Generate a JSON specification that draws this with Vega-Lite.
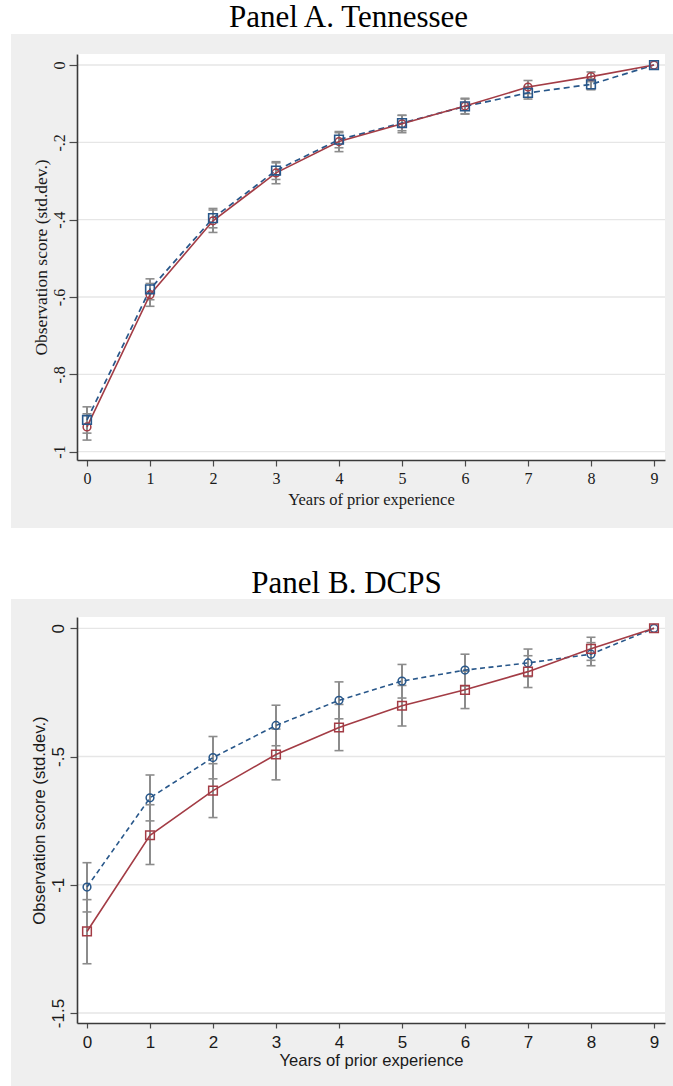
{
  "$schema": "https://vega.github.io/schema/vega-lite/v6.json",
  "background": "white",
  "padding": 0,
  "spacing": 0,
  "config": {"view": {"stroke": null}},
  "datasets": {
    "tn": [
      {"x": 0, "series": "S1", "y": -0.918, "lo": -0.952, "hi": -0.884},
      {"x": 0, "series": "S2", "y": -0.936, "lo": -0.970, "hi": -0.902},
      {"x": 1, "series": "S1", "y": -0.580, "lo": -0.607, "hi": -0.553},
      {"x": 1, "series": "S2", "y": -0.594, "lo": -0.624, "hi": -0.565},
      {"x": 2, "series": "S1", "y": -0.396, "lo": -0.421, "hi": -0.371},
      {"x": 2, "series": "S2", "y": -0.403, "lo": -0.433, "hi": -0.375},
      {"x": 3, "series": "S1", "y": -0.273, "lo": -0.296, "hi": -0.250},
      {"x": 3, "series": "S2", "y": -0.279, "lo": -0.307, "hi": -0.253},
      {"x": 4, "series": "S1", "y": -0.193, "lo": -0.214, "hi": -0.172},
      {"x": 4, "series": "S2", "y": -0.198, "lo": -0.224, "hi": -0.175},
      {"x": 5, "series": "S1", "y": -0.150, "lo": -0.170, "hi": -0.130},
      {"x": 5, "series": "S2", "y": -0.152, "lo": -0.175, "hi": -0.130},
      {"x": 6, "series": "S1", "y": -0.107, "lo": -0.126, "hi": -0.088},
      {"x": 6, "series": "S2", "y": -0.106, "lo": -0.127, "hi": -0.086},
      {"x": 7, "series": "S1", "y": -0.072, "lo": -0.088, "hi": -0.056},
      {"x": 7, "series": "S2", "y": -0.057, "lo": -0.074, "hi": -0.040},
      {"x": 8, "series": "S1", "y": -0.050, "lo": -0.064, "hi": -0.036},
      {"x": 8, "series": "S2", "y": -0.030, "lo": -0.043, "hi": -0.018},
      {"x": 9, "series": "S1", "y": 0},
      {"x": 9, "series": "S2", "y": 0}
    ],
    "dc": [
      {"x": 0, "series": "S1", "y": -1.009, "lo": -1.106, "hi": -0.914},
      {"x": 0, "series": "S2", "y": -1.182, "lo": -1.308, "hi": -1.058},
      {"x": 1, "series": "S1", "y": -0.661, "lo": -0.751, "hi": -0.572},
      {"x": 1, "series": "S2", "y": -0.807, "lo": -0.921, "hi": -0.688},
      {"x": 2, "series": "S1", "y": -0.504, "lo": -0.587, "hi": -0.422},
      {"x": 2, "series": "S2", "y": -0.633, "lo": -0.738, "hi": -0.528},
      {"x": 3, "series": "S1", "y": -0.379, "lo": -0.458, "hi": -0.300},
      {"x": 3, "series": "S2", "y": -0.492, "lo": -0.591, "hi": -0.393},
      {"x": 4, "series": "S1", "y": -0.281, "lo": -0.353, "hi": -0.209},
      {"x": 4, "series": "S2", "y": -0.387, "lo": -0.477, "hi": -0.297},
      {"x": 5, "series": "S1", "y": -0.206, "lo": -0.272, "hi": -0.141},
      {"x": 5, "series": "S2", "y": -0.302, "lo": -0.381, "hi": -0.223},
      {"x": 6, "series": "S1", "y": -0.163, "lo": -0.225, "hi": -0.101},
      {"x": 6, "series": "S2", "y": -0.240, "lo": -0.313, "hi": -0.167},
      {"x": 7, "series": "S1", "y": -0.135, "lo": -0.189, "hi": -0.081},
      {"x": 7, "series": "S2", "y": -0.169, "lo": -0.231, "hi": -0.107},
      {"x": 8, "series": "S1", "y": -0.101, "lo": -0.146, "hi": -0.056},
      {"x": 8, "series": "S2", "y": -0.080, "lo": -0.125, "hi": -0.035},
      {"x": 9, "series": "S1", "y": 0},
      {"x": 9, "series": "S2", "y": 0}
    ]
  },
  "vconcat": [
    {
      "width": 588,
      "height": 406,
      "title": {"text": "Panel A. Tennessee", "font": "Liberation Serif", "fontSize": 31, "fontWeight": "normal", "color": "#000000", "anchor": "middle", "frame": "group", "baseline": "alphabetic", "offset": -27, "dx": -22.5, "dy": 31},
      "data": {"name": "tn"},
      "encoding": {
        "x": {"field": "x", "type": "quantitative", "title": "Years of prior experience",
          "scale": {"domain": [-0.1587, 9.1746], "nice": false, "zero": false},
          "axis": {"values": [0, 1, 2, 3, 4, 5, 6, 7, 8, 9], "grid": false, "labelFont": "Liberation Serif", "labelFontSize": 16, "labelColor": "#1a1a1a", "labelPadding": 4.5, "labelAngle": 0, "labelFlush": false, "labelOverlap": false, "tickSize": 6, "tickColor": "#4a4a4a", "tickWidth": 1.2, "domainColor": "#3a3a3a", "domainWidth": 1.6, "titleFont": "Liberation Serif", "titleFontSize": 16.5, "titleFontWeight": "normal", "titleColor": "#1a1a1a", "titlePadding": 5, "zindex": 1}},
        "y": {"field": "y", "type": "quantitative", "title": "Observation score (std.dev.)",
          "scale": {"domain": [-1.0215, 0.0285], "nice": false, "zero": false},
          "axis": {"values": [0, -0.2, -0.4, -0.6, -0.8, -1], "grid": false, "labelFont": "Liberation Serif", "labelFontSize": 16, "labelColor": "#1a1a1a", "labelAngle": 270, "labelAlign": "center", "labelBaseline": "bottom", "labelPadding": 2, "labelFlush": false, "labelOverlap": false, "labelExpr": "datum.value == 0 ? '0' : (abs(datum.value) < 1 ? '-' + substring(format(abs(datum.value), '.1f'), 1) : '-' + format(abs(datum.value), '.1~f'))", "tickSize": 8, "tickColor": "#4a4a4a", "tickWidth": 1.2, "domainColor": "#3a3a3a", "domainWidth": 1.6, "titleFont": "Liberation Serif", "titleFontSize": 17.5, "titleFontWeight": "normal", "titleColor": "#1a1a1a", "titlePadding": 1, "zindex": 1}}
      },
      "layer": [
        {"transform": [{"filter": "datum.x == 9 && datum.series == 'S1'"}], "mark": {"type": "rect", "fill": "#ffffff", "fillOpacity": 0, "clip": false},
          "encoding": {"x": {"datum": -1.3809, "type": "quantitative"}, "x2": {"datum": 9.3016},
            "y": {"datum": 0.1681, "type": "quantitative"}, "y2": {"datum": -1.2801}}},
        {"transform": [{"filter": "datum.x == 9 && datum.series == 'S1'"}], "mark": {"type": "rect", "fill": "#efefef", "clip": false},
          "encoding": {"x": {"datum": -1.2063, "type": "quantitative"}, "x2": {"datum": 9.3016},
            "y": {"datum": 0.0802, "type": "quantitative"}, "y2": {"datum": -1.1973}}},
        {"transform": [{"filter": "datum.x == 9 && datum.series == 'S1'"}], "mark": {"type": "rect", "fill": "#ffffff", "clip": false},
          "encoding": {"x": {"datum": -0.1587, "type": "quantitative"}, "x2": {"datum": 9.1746},
            "y": {"datum": 0.0285, "type": "quantitative"}, "y2": {"datum": -1.0215}}},
        {"transform": [{"filter": "datum.x == 9 && datum.series == 'S1'"}], "mark": {"type": "rule", "color": "#e6e6e6", "strokeWidth": 1.3},
          "encoding": {"x": {"datum": -0.1587, "type": "quantitative"}, "x2": {"datum": 9.1746}, "y": {"datum": 0, "type": "quantitative"}}},
        {"transform": [{"filter": "datum.x == 9 && datum.series == 'S1'"}], "mark": {"type": "rule", "color": "#e6e6e6", "strokeWidth": 1.3},
          "encoding": {"x": {"datum": -0.1587, "type": "quantitative"}, "x2": {"datum": 9.1746}, "y": {"datum": -0.2, "type": "quantitative"}}},
        {"transform": [{"filter": "datum.x == 9 && datum.series == 'S1'"}], "mark": {"type": "rule", "color": "#e6e6e6", "strokeWidth": 1.3},
          "encoding": {"x": {"datum": -0.1587, "type": "quantitative"}, "x2": {"datum": 9.1746}, "y": {"datum": -0.4, "type": "quantitative"}}},
        {"transform": [{"filter": "datum.x == 9 && datum.series == 'S1'"}], "mark": {"type": "rule", "color": "#e6e6e6", "strokeWidth": 1.3},
          "encoding": {"x": {"datum": -0.1587, "type": "quantitative"}, "x2": {"datum": 9.1746}, "y": {"datum": -0.6, "type": "quantitative"}}},
        {"transform": [{"filter": "datum.x == 9 && datum.series == 'S1'"}], "mark": {"type": "rule", "color": "#e6e6e6", "strokeWidth": 1.3},
          "encoding": {"x": {"datum": -0.1587, "type": "quantitative"}, "x2": {"datum": 9.1746}, "y": {"datum": -0.8, "type": "quantitative"}}},
        {"transform": [{"filter": "datum.x == 9 && datum.series == 'S1'"}], "mark": {"type": "rule", "color": "#e6e6e6", "strokeWidth": 1.3},
          "encoding": {"x": {"datum": -0.1587, "type": "quantitative"}, "x2": {"datum": 9.1746}, "y": {"datum": -1, "type": "quantitative"}}},
        {"mark": {"type": "rule", "color": "#8c8c8c", "strokeWidth": 2},
          "encoding": {"y": {"field": "lo", "type": "quantitative"}, "y2": {"field": "hi"}}},
        {"mark": {"type": "tick", "orient": "horizontal", "color": "#8c8c8c", "size": 9, "thickness": 1.6, "opacity": 1},
          "encoding": {"y": {"field": "lo", "type": "quantitative"}}},
        {"mark": {"type": "tick", "orient": "horizontal", "color": "#8c8c8c", "size": 9, "thickness": 1.6, "opacity": 1},
          "encoding": {"y": {"field": "hi", "type": "quantitative"}}},
        {"transform": [{"filter": "datum.series == 'S1'"}], "mark": {"type": "line", "color": "#28578a", "strokeWidth": 1.7, "strokeDash": [6, 4]}, "encoding": {}},
        {"transform": [{"filter": "datum.series == 'S2'"}], "mark": {"type": "line", "color": "#a33c45", "strokeWidth": 1.6}, "encoding": {}},
        {"transform": [{"filter": "datum.series == 'S2'"}], "mark": {"type": "point", "shape": "circle", "filled": false, "size": 60, "strokeWidth": 1.5, "color": "#a33c45", "opacity": 1}, "encoding": {}},
        {"transform": [{"filter": "datum.series == 'S1'"}], "mark": {"type": "point", "shape": "square", "filled": false, "size": 75, "strokeWidth": 1.6, "color": "#28578a", "opacity": 1}, "encoding": {}}
      ]
    },
    {
      "width": 588,
      "height": 406,
      "title": {"text": "Panel B. DCPS", "font": "Liberation Serif", "fontSize": 31, "fontWeight": "normal", "color": "#000000", "anchor": "middle", "frame": "group", "baseline": "alphabetic", "offset": -33, "dx": -24.5, "dy": 31},
      "data": {"name": "dc"},
      "encoding": {
        "x": {"field": "x", "type": "quantitative", "title": "Years of prior experience",
          "scale": {"domain": [-0.1587, 9.1746], "nice": false, "zero": false},
          "axis": {"values": [0, 1, 2, 3, 4, 5, 6, 7, 8, 9], "grid": false, "labelFont": "Liberation Sans", "labelFontSize": 17, "labelColor": "#1a1a1a", "labelPadding": 6, "labelAngle": 0, "labelFlush": false, "labelOverlap": false, "tickSize": 5, "tickColor": "#4a4a4a", "tickWidth": 1.2, "domainColor": "#3a3a3a", "domainWidth": 1.6, "titleFont": "Liberation Sans", "titleFontSize": 16.6, "titleFontWeight": "normal", "titleColor": "#1a1a1a", "titlePadding": 2, "zindex": 1}},
        "y": {"field": "y", "type": "quantitative", "title": "Observation score (std.dev.)",
          "scale": {"domain": [-1.539, 0.044], "nice": false, "zero": false},
          "axis": {"values": [0, -0.5, -1, -1.5], "grid": false, "labelFont": "Liberation Sans", "labelFontSize": 17, "labelColor": "#1a1a1a", "labelAngle": 270, "labelAlign": "center", "labelBaseline": "bottom", "labelPadding": 3, "labelFlush": false, "labelOverlap": false, "labelExpr": "datum.value == 0 ? '0' : (abs(datum.value) < 1 ? '-' + substring(format(abs(datum.value), '.1f'), 1) : '-' + format(abs(datum.value), '.1~f'))", "tickSize": 7, "tickColor": "#4a4a4a", "tickWidth": 1.2, "domainColor": "#3a3a3a", "domainWidth": 1.6, "titleFont": "Liberation Sans", "titleFontSize": 16.7, "titleFontWeight": "normal", "titleColor": "#1a1a1a", "titlePadding": 1, "zindex": 1}}
      },
      "layer": [
        {"transform": [{"filter": "datum.x == 9 && datum.series == 'S1'"}], "mark": {"type": "rect", "fill": "#ffffff", "fillOpacity": 0, "clip": false},
          "encoding": {"x": {"datum": -1.3809, "type": "quantitative"}, "x2": {"datum": 9.3016},
            "y": {"datum": 0.2662, "type": "quantitative"}, "y2": {"datum": -1.7845}}},
        {"transform": [{"filter": "datum.x == 9 && datum.series == 'S1'"}], "mark": {"type": "rect", "fill": "#efefef", "clip": false},
          "encoding": {"x": {"datum": -1.2063, "type": "quantitative"}, "x2": {"datum": 9.3016},
            "y": {"datum": 0.1142, "type": "quantitative"}, "y2": {"datum": -1.7845}}},
        {"transform": [{"filter": "datum.x == 9 && datum.series == 'S1'"}], "mark": {"type": "rect", "fill": "#ffffff", "clip": false},
          "encoding": {"x": {"datum": -0.1587, "type": "quantitative"}, "x2": {"datum": 9.1746},
            "y": {"datum": 0.044, "type": "quantitative"}, "y2": {"datum": -1.539}}},
        {"transform": [{"filter": "datum.x == 9 && datum.series == 'S1'"}], "mark": {"type": "rule", "color": "#e6e6e6", "strokeWidth": 1.3},
          "encoding": {"x": {"datum": -0.1587, "type": "quantitative"}, "x2": {"datum": 9.1746}, "y": {"datum": 0, "type": "quantitative"}}},
        {"transform": [{"filter": "datum.x == 9 && datum.series == 'S1'"}], "mark": {"type": "rule", "color": "#e6e6e6", "strokeWidth": 1.3},
          "encoding": {"x": {"datum": -0.1587, "type": "quantitative"}, "x2": {"datum": 9.1746}, "y": {"datum": -0.5, "type": "quantitative"}}},
        {"transform": [{"filter": "datum.x == 9 && datum.series == 'S1'"}], "mark": {"type": "rule", "color": "#e6e6e6", "strokeWidth": 1.3},
          "encoding": {"x": {"datum": -0.1587, "type": "quantitative"}, "x2": {"datum": 9.1746}, "y": {"datum": -1, "type": "quantitative"}}},
        {"transform": [{"filter": "datum.x == 9 && datum.series == 'S1'"}], "mark": {"type": "rule", "color": "#e6e6e6", "strokeWidth": 1.3},
          "encoding": {"x": {"datum": -0.1587, "type": "quantitative"}, "x2": {"datum": 9.1746}, "y": {"datum": -1.5, "type": "quantitative"}}},
        {"mark": {"type": "rule", "color": "#8c8c8c", "strokeWidth": 2},
          "encoding": {"y": {"field": "lo", "type": "quantitative"}, "y2": {"field": "hi"}}},
        {"mark": {"type": "tick", "orient": "horizontal", "color": "#8c8c8c", "size": 9, "thickness": 1.6, "opacity": 1},
          "encoding": {"y": {"field": "lo", "type": "quantitative"}}},
        {"mark": {"type": "tick", "orient": "horizontal", "color": "#8c8c8c", "size": 9, "thickness": 1.6, "opacity": 1},
          "encoding": {"y": {"field": "hi", "type": "quantitative"}}},
        {"transform": [{"filter": "datum.series == 'S1'"}], "mark": {"type": "line", "color": "#28578a", "strokeWidth": 1.6, "strokeDash": [5, 3.5]}, "encoding": {}},
        {"transform": [{"filter": "datum.series == 'S2'"}], "mark": {"type": "line", "color": "#a33c45", "strokeWidth": 1.6}, "encoding": {}},
        {"transform": [{"filter": "datum.series == 'S1'"}], "mark": {"type": "point", "shape": "circle", "filled": false, "size": 60, "strokeWidth": 1.5, "color": "#28578a", "opacity": 1}, "encoding": {}},
        {"transform": [{"filter": "datum.series == 'S2'"}], "mark": {"type": "point", "shape": "square", "filled": false, "size": 75, "strokeWidth": 1.5, "color": "#a33c45", "opacity": 1}, "encoding": {}}
      ]
    }
  ]
}
